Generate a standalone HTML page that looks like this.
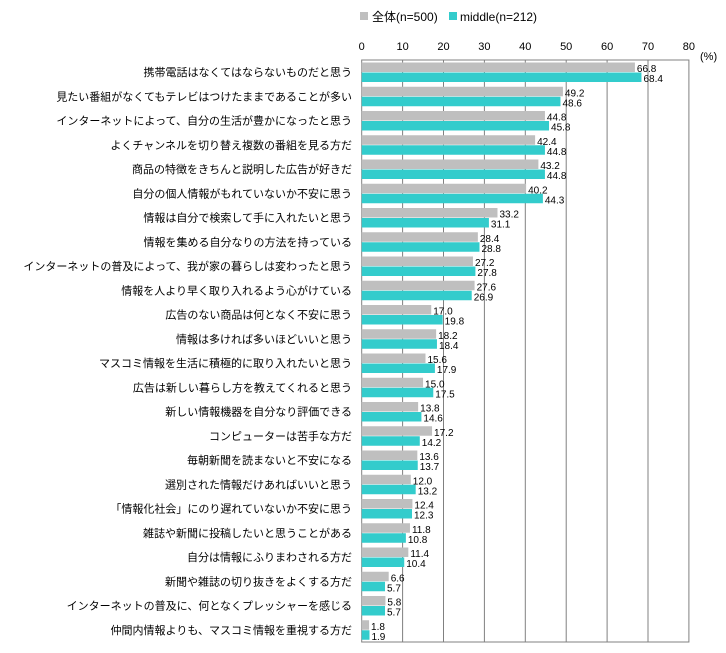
<!DOCTYPE html>
<html><head><meta charset="utf-8"><style>
body{margin:0;background:#fff;}
svg text{font-family:"Liberation Sans","Noto Sans CJK JP",sans-serif;}
</style></head><body>
<svg width="726" height="648" xmlns="http://www.w3.org/2000/svg">
<rect x="360" y="12" width="8" height="8" fill="#bfbfbf"/>
<text x="372" y="21" font-size="12" fill="#000">全体(n=500)</text>
<rect x="449" y="12" width="8" height="8" fill="#33cccc"/>
<text x="460" y="21" font-size="12" fill="#000">middle(n=212)</text>
<g font-size="11" text-anchor="middle" fill="#000">
<text x="361.7" y="50">0</text><text x="402.6" y="50">10</text><text x="443.5" y="50">20</text><text x="484.4" y="50">30</text><text x="525.3" y="50">40</text><text x="566.2" y="50">50</text><text x="607.1" y="50">60</text><text x="648" y="50">70</text><text x="688.9" y="50">80</text>
</g>
<text x="700" y="60" font-size="11">(%)</text>
<g stroke="#808080" stroke-width="1">
<line x1="402.6" y1="60" x2="402.6" y2="642"/><line x1="443.5" y1="60" x2="443.5" y2="642"/><line x1="484.4" y1="60" x2="484.4" y2="642"/><line x1="525.3" y1="60" x2="525.3" y2="642"/><line x1="566.2" y1="60" x2="566.2" y2="642"/><line x1="607.1" y1="60" x2="607.1" y2="642"/><line x1="648" y1="60" x2="648" y2="642"/>
<rect x="361.7" y="60" width="327.2" height="582" fill="none"/>
</g>
<g id="bars"></g>
</svg>
<script>
var d=[["携帯電話はなくてはならないものだと思う",66.8,68.4],["見たい番組がなくてもテレビはつけたままであることが多い",49.2,48.6],["インターネットによって、自分の生活が豊かになったと思う",44.8,45.8],["よくチャンネルを切り替え複数の番組を見る方だ",42.4,44.8],["商品の特徴をきちんと説明した広告が好きだ",43.2,44.8],["自分の個人情報がもれていないか不安に思う",40.2,44.3],["情報は自分で検索して手に入れたいと思う",33.2,31.1],["情報を集める自分なりの方法を持っている",28.4,28.8],["インターネットの普及によって、我が家の暮らしは変わったと思う",27.2,27.8],["情報を人より早く取り入れるよう心がけている",27.6,26.9],["広告のない商品は何となく不安に思う",17.0,19.8],["情報は多ければ多いほどいいと思う",18.2,18.4],["マスコミ情報を生活に積極的に取り入れたいと思う",15.6,17.9],["広告は新しい暮らし方を教えてくれると思う",15.0,17.5],["新しい情報機器を自分なり評価できる",13.8,14.6],["コンピューターは苦手な方だ",17.2,14.2],["毎朝新聞を読まないと不安になる",13.6,13.7],["選別された情報だけあればいいと思う",12.0,13.2],["「情報化社会」にのり遅れていないか不安に思う",12.4,12.3],["雑誌や新聞に投稿したいと思うことがある",11.8,10.8],["自分は情報にふりまわされる方だ",11.4,10.4],["新聞や雑誌の切り抜きをよくする方だ",6.6,5.7],["インターネットの普及に、何となくプレッシャーを感じる",5.8,5.7],["仲間内情報よりも、マスコミ情報を重視する方だ",1.8,1.9]];
var g=document.getElementById('bars'),s='',x0=361.7,k=4.09,h=24.25;
d.forEach(function(r,i){var y=60+i*h;
s+='<rect x="'+x0+'" y="'+(y+2.5)+'" width="'+(r[1]*k)+'" height="9.5" fill="#bfbfbf"/>';
s+='<rect x="'+x0+'" y="'+(y+12.5)+'" width="'+(r[2]*k)+'" height="9.5" fill="#33cccc"/>';
s+='<text x="'+(x0+r[1]*k+2)+'" y="'+(y+12)+'" font-size="10">'+r[1].toFixed(1)+'</text>';
s+='<text x="'+(x0+r[2]*k+2)+'" y="'+(y+22)+'" font-size="10">'+r[2].toFixed(1)+'</text>';
s+='<text x="352" y="'+(y+16)+'" font-size="11" text-anchor="end">'+r[0]+'</text>';});
g.innerHTML=s;
</script>
</body></html>
